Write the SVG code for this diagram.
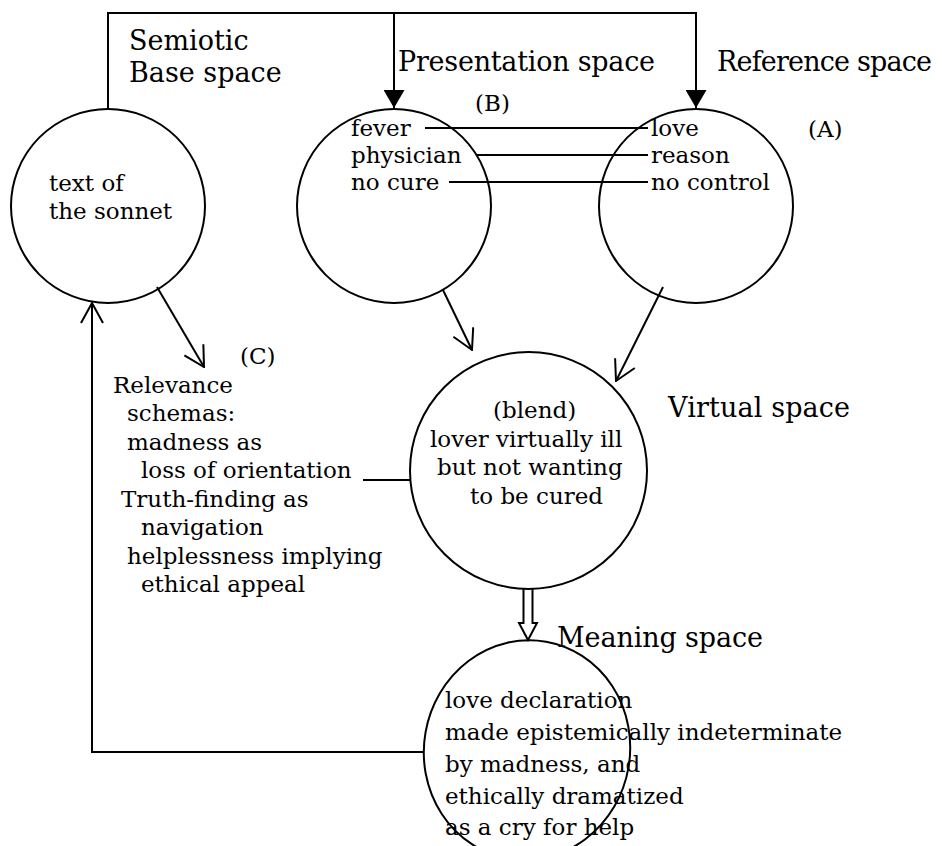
<svg xmlns="http://www.w3.org/2000/svg" width="942" height="846" viewBox="0 0 942 846">
  <style>
    .node { fill: none; stroke: #000; stroke-width: 2; }
    .wire { fill: none; stroke: #000; stroke-width: 2; }
    .head { font-family: "DejaVu Serif", "Liberation Serif", serif; font-size: 27px; fill: #000; }
    .txt { font-family: "DejaVu Serif", "Liberation Serif", serif; font-size: 23px; fill: #000; }
  </style>
  <defs>
    <marker id="solid" viewBox="0 0 18 21" refX="18" refY="10.5" markerWidth="18" markerHeight="21" markerUnits="userSpaceOnUse" orient="auto">
      <path d="M0,0 L18,10.5 L0,21 Z" fill="#000"/>
    </marker>
    <marker id="open" viewBox="0 0 22 24" refX="21" refY="12" markerWidth="22" markerHeight="24" markerUnits="userSpaceOnUse" orient="auto">
      <path d="M1,1 L21,12 L1,23" fill="none" stroke="#000" stroke-width="2"/>
    </marker>
  </defs>

  <!-- labels of the spaces -->
  <g id="labels">
    <text class="head" x="129" y="50">Semiotic</text>
    <text class="head" x="129" y="82">Base space</text>
    <text class="head" x="398" y="71" textLength="257">Presentation space</text>
    <text class="head" x="717" y="71" textLength="215">Reference space</text>
    <text class="head" x="668" y="417" textLength="182">Virtual space</text>
    <text class="head" x="557" y="647" textLength="206">Meaning space</text>
    <text class="txt" x="475" y="111">(B)</text>
    <text class="txt" x="808" y="137">(A)</text>
    <text class="txt" x="240" y="364">(C)</text>
  </g>

  <!-- semiotic base space -->
  <g id="base">
    <circle class="node" cx="108" cy="206" r="97"/>
    <text class="txt" x="49" y="191">text of</text>
    <text class="txt" x="49" y="219">the sonnet</text>
  </g>

  <!-- presentation space -->
  <g id="presentation">
    <circle class="node" cx="394" cy="206" r="97"/>
    <text class="txt" x="351" y="136">fever</text>
    <text class="txt" x="351" y="163">physician</text>
    <text class="txt" x="351" y="190">no cure</text>
  </g>

  <!-- reference space -->
  <g id="reference">
    <circle class="node" cx="696" cy="206" r="97"/>
    <text class="txt" x="651" y="136">love</text>
    <text class="txt" x="651" y="163">reason</text>
    <text class="txt" x="651" y="190">no control</text>
  </g>

  <!-- relevance schemas -->
  <g id="schemas">
    <text class="txt" x="113" y="393">Relevance</text>
    <text class="txt" x="127" y="421">schemas:</text>
    <text class="txt" x="127" y="450">madness as</text>
    <text class="txt" x="141" y="478">loss of orientation</text>
    <text class="txt" x="121" y="507">Truth-finding as</text>
    <text class="txt" x="141" y="535">navigation</text>
    <text class="txt" x="127" y="564">helplessness implying</text>
    <text class="txt" x="141" y="592">ethical appeal</text>
  </g>

  <!-- virtual space (blend) -->
  <g id="virtual">
    <circle class="node" cx="528.5" cy="470.5" r="118.5"/>
    <text class="txt" x="493" y="418">(blend)</text>
    <text class="txt" x="430" y="447">lover virtually ill</text>
    <text class="txt" x="437" y="475">but not wanting</text>
    <text class="txt" x="470" y="504">to be cured</text>
  </g>

  <!-- meaning space -->
  <g id="meaning">
    <ellipse class="node" cx="527" cy="750" rx="103" ry="110" transform="rotate(10 527 750)"/>
    <text class="txt" x="445" y="708">love declaration</text>
    <text class="txt" x="445" y="740">made epistemically indeterminate</text>
    <text class="txt" x="445" y="772">by madness, and</text>
    <text class="txt" x="445" y="804">ethically dramatized</text>
    <text class="txt" x="445" y="835">as a cry for help</text>
  </g>

  <g id="connectors">
    <!-- base space feeding presentation and reference spaces -->
    <path class="wire" d="M108,109 V13 H696 V108" marker-end="url(#solid)"/>
    <line class="wire" x1="394" y1="13" x2="394" y2="108" marker-end="url(#solid)"/>
    <!-- cross-space mappings -->
    <line class="wire" x1="425" y1="128" x2="648" y2="128"/>
    <line class="wire" x1="476" y1="155" x2="648" y2="155"/>
    <line class="wire" x1="449" y1="182" x2="648" y2="182"/>
    <!-- projections into the blend -->
    <line class="wire" x1="443" y1="290" x2="472" y2="350" marker-end="url(#open)"/>
    <line class="wire" x1="663" y1="287" x2="616" y2="381" marker-end="url(#open)"/>
    <!-- base space to relevance schemas -->
    <line class="wire" x1="157" y1="287" x2="204" y2="367" marker-end="url(#open)"/>
    <!-- schemas attached to the blend -->
    <line class="wire" x1="363" y1="480" x2="410" y2="480"/>
    <!-- blend to meaning: hollow double arrow -->
    <path class="wire" d="M523.5,589 V623 H519 L528,640 L537,623 H532.5 V589" fill="#fff"/>
    <!-- meaning back to base space -->
    <path class="wire" d="M424,752 H92 V303" marker-end="url(#open)"/>
  </g>
</svg>
